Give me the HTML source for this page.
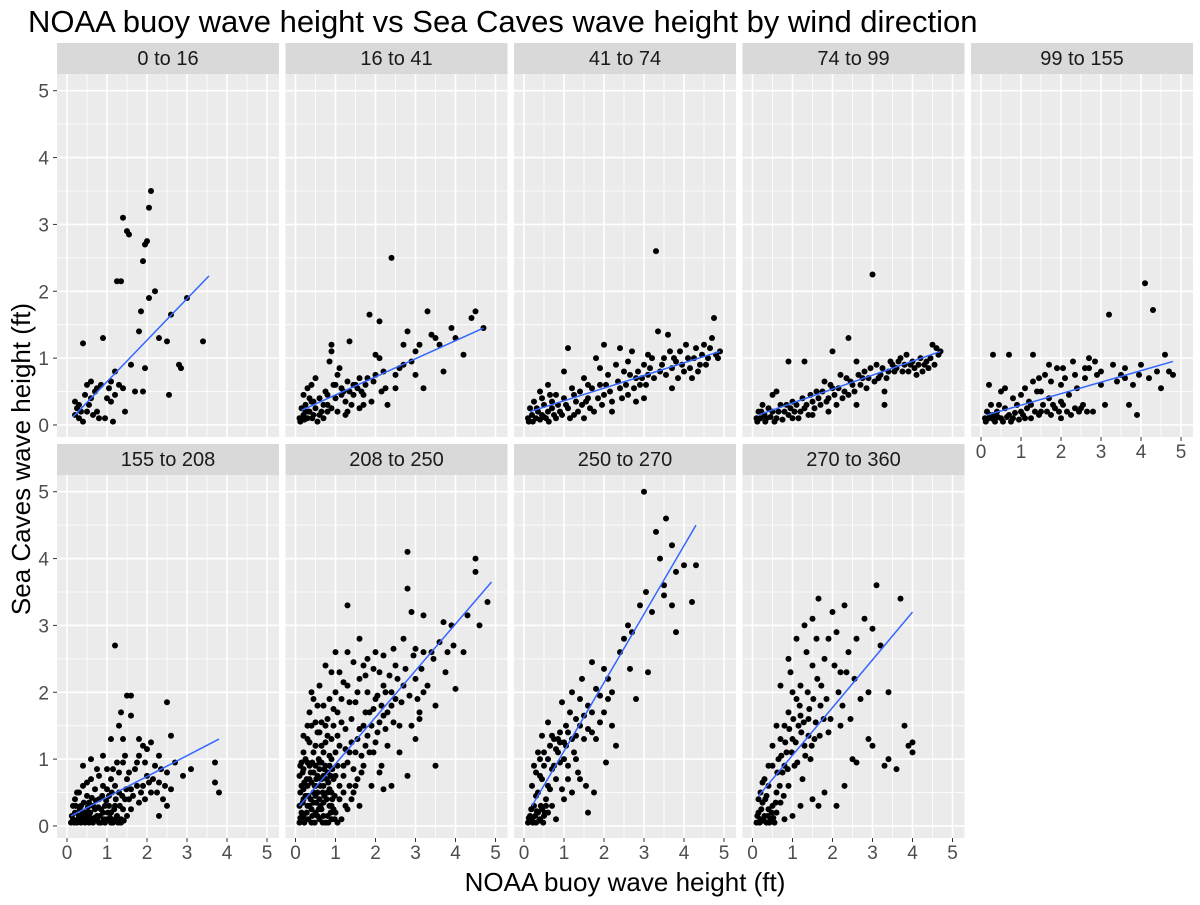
<!DOCTYPE html>
<html><head><meta charset="utf-8">
<style>
body{margin:0;background:#fff;font-family:"Liberation Sans",sans-serif;}
svg text{font-family:"Liberation Sans",sans-serif;}
</style></head>
<body>
<svg id="chart" width="1200" height="900" viewBox="0 0 1200 900" xmlns="http://www.w3.org/2000/svg">
<text x="28" y="32" font-size="31" fill="#000">NOAA buoy wave height vs Sea Caves wave height by wind direction</text>
<text x="625" y="891" font-size="26" text-anchor="middle" fill="#000">NOAA buoy wave height (ft)</text>
<text transform="translate(30,459) rotate(-90)" font-size="26" text-anchor="middle" fill="#000">Sea Caves wave height (ft)</text>
<g id="panels"></g>
</svg>
<script>
const facetLabels=["0 to 16","16 to 41","41 to 74","74 to 99","99 to 155","155 to 208","208 to 250","250 to 270","270 to 360"];
const xTicks=[0,1,2,3,4,5];
const yTicks=[0,1,2,3,4,5];
const fitStart=[[0.15,0.12],[0.15,0.22],[0.15,0.2],[0.15,0.15],[0.15,0.15],[0.1,0.15],[0.1,0.3],[0.2,0.3],[0.15,0.45]];
const fitEnd=[[3.55,2.23],[4.7,1.45],[4.9,1.1],[4.7,1.1],[4.8,0.95],[3.8,1.3],[4.9,3.65],[4.3,4.5],[4.0,3.2]];
const pts0=[[0.2,0.15],[0.3,0.3],[0.35,0.2],[0.4,1.22],[0.45,0.45],[0.5,0.6],[0.55,0.3],[0.6,0.65],[0.7,0.5],[0.75,0.55],[0.8,0.1],[0.85,0.6],[0.9,1.3],[0.95,0.1],[1.0,0.4],[1.05,0.55],[1.1,0.65],[1.15,0.05],[1.2,0.8],[1.25,2.15],[1.3,0.6],[1.35,2.15],[1.4,3.1],[1.45,0.2],[1.5,2.9],[1.55,2.85],[1.6,0.9],[1.7,0.5],[1.8,1.4],[1.85,1.7],[1.9,2.45],[1.95,2.7],[2.0,2.75],[1.9,0.5],[1.95,0.85],[2.05,1.9],[2.1,3.5],[2.05,3.25],[2.2,2.0],[2.3,1.3],[2.5,1.25],[2.6,1.65],[2.55,0.45],[2.8,0.9],[2.85,0.85],[3.0,1.9],[3.4,1.25],[0.6,0.4],[0.25,0.25],[0.4,0.05],[1.1,0.35],[0.75,0.2],[0.3,0.1],[0.5,0.2],[0.65,0.15],[1.2,0.45],[1.4,0.55],[0.2,0.35]];
const pts1=[[0.1,0.1],[0.15,0.25],[0.2,0.15],[0.25,0.3],[0.3,0.1],[0.35,0.2],[0.4,0.35],[0.45,0.15],[0.5,0.25],[0.2,0.45],[0.3,0.55],[0.5,0.7],[0.6,0.4],[0.6,0.15],[0.7,0.3],[0.75,0.5],[0.8,0.2],[0.85,0.95],[0.9,1.2],[0.9,1.1],[0.95,0.6],[1.0,0.4],[1.05,0.75],[1.1,0.85],[1.15,0.55],[1.2,0.5],[1.25,0.35],[1.3,0.65],[1.35,1.25],[1.4,0.3],[1.45,0.45],[1.5,0.6],[1.55,0.55],[1.6,0.7],[1.7,0.45],[1.75,0.6],[1.8,0.7],[1.85,1.65],[1.9,0.35],[2.0,0.75],[2.0,1.05],[2.1,1.0],[2.1,1.55],[2.2,0.8],[2.3,0.3],[2.4,2.5],[2.5,0.75],[2.6,0.85],[2.7,1.2],[2.8,1.4],[2.9,0.95],[3.0,1.1],[3.1,1.2],[3.2,0.55],[3.3,1.7],[3.4,1.35],[3.5,1.3],[3.6,1.2],[3.7,0.8],[3.9,1.45],[4.0,1.3],[4.2,1.05],[4.4,1.6],[4.5,1.7],[4.7,1.45],[1.3,0.2],[1.6,0.25],[0.8,0.3],[0.4,0.6],[0.12,0.05],[0.22,0.08],[0.32,0.2],[0.42,0.1],[0.55,0.05],[0.65,0.2],[0.7,0.1],[0.9,0.25],[1.05,0.2],[1.15,0.45],[1.35,0.5],[1.45,0.6],[1.65,0.5],[1.95,0.65],[2.15,0.5],[2.25,0.55],[0.25,0.2],[0.45,0.35],[0.8,0.45],[1.0,0.6],[1.25,0.15],[1.7,0.3],[2.5,0.55],[2.7,0.9],[3.0,0.75],[0.35,0.4]];
const pts2=[[0.1,0.1],[0.15,0.25],[0.2,0.15],[0.25,0.35],[0.3,0.1],[0.35,0.2],[0.4,0.5],[0.45,0.15],[0.5,0.3],[0.55,0.1],[0.6,0.2],[0.7,0.35],[0.75,0.15],[0.8,0.45],[0.85,0.3],[0.9,0.2],[1.0,0.4],[1.0,0.8],[1.1,0.25],[1.2,0.55],[1.25,0.15],[1.3,0.35],[1.4,0.5],[1.45,0.3],[1.5,0.7],[1.6,0.4],[1.7,0.55],[1.75,0.2],[1.8,1.0],[1.9,0.6],[2.0,0.45],[2.0,1.2],[2.1,0.75],[2.2,0.35],[2.3,0.9],[2.4,0.55],[2.5,0.8],[2.6,0.45],[2.7,1.1],[2.8,0.7],[2.9,0.6],[3.0,0.9],[3.1,0.75],[3.2,1.0],[3.3,2.6],[3.35,1.4],[3.4,0.8],[3.5,1.0],[3.6,1.35],[3.7,0.85],[3.8,0.95],[3.9,1.1],[4.0,0.8],[4.1,1.0],[4.2,0.7],[4.3,1.15],[4.4,0.9],[4.5,1.2],[4.6,1.0],[4.7,1.3],[4.75,1.6],[4.85,1.0],[4.9,1.1],[1.1,1.15],[2.4,1.15],[0.6,0.6],[1.5,0.1],[2.2,0.2],[3.0,0.4],[2.8,0.35],[3.7,0.55],[0.12,0.05],[0.22,0.05],[0.32,0.25],[0.4,0.08],[0.5,0.12],[0.62,0.05],[0.7,0.25],[0.8,0.1],[0.95,0.15],[1.05,0.3],[1.15,0.1],[1.35,0.2],[1.55,0.35],[1.65,0.25],[1.85,0.4],[1.95,0.3],[2.05,0.6],[2.15,0.5],[2.35,0.65],[2.45,0.4],[2.55,0.6],[2.65,0.75],[2.75,0.55],[2.85,0.8],[2.95,0.7],[3.05,0.6],[3.15,0.85],[3.25,0.7],[3.45,0.9],[3.55,0.75],[3.65,1.1],[3.75,1.0],[3.85,0.7],[3.95,0.9],[4.05,1.2],[4.15,0.85],[4.25,1.0],[4.35,0.8],[4.45,1.05],[4.55,0.9],[4.65,1.15],[4.8,1.05],[1.9,0.85],[2.6,0.95],[3.1,1.05],[0.45,0.4],[0.65,0.45],[1.25,0.45],[1.6,0.6]];
const pts3=[[0.1,0.1],[0.15,0.2],[0.2,0.1],[0.25,0.3],[0.3,0.15],[0.35,0.1],[0.4,0.25],[0.5,0.2],[0.6,0.1],[0.7,0.3],[0.8,0.2],[0.9,0.15],[1.0,0.1],[0.5,0.45],[0.6,0.5],[0.95,0.25],[1.1,0.3],[1.2,0.2],[1.3,0.25],[1.4,0.15],[1.5,0.35],[1.6,0.5],[1.7,0.3],[1.8,0.65],[1.9,0.4],[2.0,0.55],[2.1,0.3],[2.2,0.75],[2.3,0.5],[2.4,0.45],[2.5,0.6],[2.6,0.95],[2.7,0.6],[2.8,0.8],[2.9,0.7],[3.0,2.25],[3.05,0.65],[3.1,0.9],[3.2,0.75],[3.3,0.5],[3.4,0.8],[3.5,0.9],[3.6,0.85],[3.7,1.0],[3.8,0.9],[3.9,0.8],[4.0,0.95],[4.1,0.75],[4.2,1.0],[4.3,0.9],[4.4,0.85],[4.5,1.2],[4.6,1.15],[4.7,1.1],[2.0,1.1],[2.4,1.3],[1.3,0.95],[0.9,0.95],[1.9,0.2],[2.6,0.3],[3.3,0.3],[0.12,0.05],[0.22,0.2],[0.32,0.05],[0.45,0.12],[0.55,0.05],[0.65,0.2],[0.75,0.08],[0.85,0.3],[1.05,0.2],[1.15,0.1],[1.25,0.4],[1.35,0.3],[1.45,0.45],[1.55,0.25],[1.65,0.4],[1.75,0.5],[1.85,0.35],[1.95,0.6],[2.05,0.45],[2.15,0.55],[2.25,0.4],[2.35,0.7],[2.45,0.65],[2.55,0.5],[2.65,0.75],[2.75,0.7],[2.85,0.55],[2.95,0.85],[3.15,0.7],[3.25,0.85],[3.35,0.7],[3.45,0.95],[3.55,0.8],[3.65,0.95],[3.75,0.8],[3.85,1.05],[3.95,0.9],[4.05,0.85],[4.15,0.9],[4.25,0.8],[4.35,0.95],[4.45,1.0],[4.55,0.9],[4.65,1.05],[1.0,0.35],[1.5,0.15]];
const pts4=[[0.1,0.1],[0.15,0.2],[0.2,0.1],[0.25,0.3],[0.3,0.15],[0.35,0.05],[0.4,0.2],[0.5,0.1],[0.6,0.25],[0.7,0.15],[0.8,0.1],[0.9,0.3],[1.0,0.2],[1.1,0.1],[0.5,0.5],[0.6,0.55],[0.3,1.05],[0.7,1.05],[0.2,0.6],[1.0,0.45],[1.2,0.35],[1.3,0.65],[1.4,0.5],[1.5,0.2],[1.6,0.75],[1.7,0.4],[1.8,0.3],[1.9,0.85],[2.0,0.6],[2.1,0.7],[2.2,0.45],[2.3,0.95],[2.4,0.55],[2.5,0.25],[2.6,0.7],[2.7,0.85],[2.8,0.2],[2.9,0.75],[3.0,0.6],[3.1,0.3],[3.2,1.65],[3.3,0.9],[3.4,0.65],[3.5,0.75],[3.6,0.85],[3.7,0.3],[3.8,0.6],[3.9,0.15],[4.0,0.9],[4.1,2.12],[4.2,0.7],[4.3,1.72],[4.4,0.8],[4.5,0.55],[4.6,1.05],[4.7,0.8],[4.8,0.75],[2.7,1.0],[1.3,1.05],[1.7,0.9],[2.0,0.1],[1.5,0.5],[0.12,0.05],[0.22,0.15],[0.32,0.08],[0.42,0.12],[0.55,0.05],[0.65,0.12],[0.75,0.05],[0.85,0.18],[0.95,0.08],[1.05,0.15],[1.15,0.25],[1.25,0.1],[1.35,0.2],[1.45,0.15],[1.55,0.3],[1.65,0.2],[1.75,0.15],[1.85,0.25],[1.95,0.2],[2.05,0.3],[2.15,0.2],[2.25,0.15],[2.35,0.25],[2.45,0.2],[2.55,0.3],[2.65,0.2],[0.45,0.3],[0.8,0.4],[1.1,0.55],[1.45,0.7],[1.75,0.65],[2.05,0.85],[2.35,0.75],[2.6,0.85],[2.85,0.95],[3.0,0.8],[3.6,0.7],[3.95,0.75],[1.25,0.3],[2.0,0.35]];
const pts5=[[0.1,0.05],[0.15,0.1],[0.2,0.2],[0.25,0.05],[0.3,0.15],[0.35,0.3],[0.4,0.1],[0.45,0.05],[0.5,0.2],[0.55,0.35],[0.6,0.1],[0.65,0.05],[0.7,0.25],[0.75,0.15],[0.8,0.4],[0.85,0.05],[0.9,0.2],[0.95,0.3],[1.0,0.1],[1.05,0.45],[1.1,0.2],[1.15,0.05],[1.2,0.3],[1.25,0.15],[1.3,0.5],[1.35,0.1],[1.4,0.25],[1.45,0.4],[1.5,0.15],[0.2,0.4],[0.3,0.5],[0.4,0.6],[0.5,0.45],[0.6,0.7],[0.7,0.55],[0.8,0.75],[0.9,0.6],[1.0,0.85],[1.1,0.7],[1.2,0.6],[1.3,0.8],[1.4,0.95],[1.5,0.7],[1.6,0.55],[1.7,0.85],[1.8,1.05],[1.9,0.6],[2.0,0.75],[2.1,0.5],[2.2,0.9],[2.3,0.65],[2.4,0.4],[2.5,0.8],[2.6,0.55],[2.7,0.95],[0.4,0.9],[0.6,1.0],[0.9,1.05],[1.1,1.3],[1.2,2.7],[1.3,1.5],[1.35,1.7],[1.5,1.95],[1.6,1.95],[1.6,1.65],[1.4,1.3],[1.8,1.3],[1.9,1.2],[2.0,1.15],[2.3,1.05],[2.5,1.85],[2.6,1.35],[2.9,0.75],[3.1,0.85],[3.7,0.95],[3.7,0.65],[3.8,0.5],[2.5,0.3],[2.3,0.15],[1.8,0.35],[1.6,0.25],[0.35,0.05],[0.55,0.05],[0.75,0.1],[0.95,0.05],[1.2,0.1],[0.45,0.2],[0.65,0.3],[0.85,0.25],[1.05,0.3],[0.12,0.15],[0.18,0.05],[0.22,0.3],[0.28,0.1],[0.32,0.25],[0.38,0.18],[0.42,0.35],[0.48,0.12],[0.52,0.28],[0.58,0.2],[0.62,0.42],[0.68,0.12],[0.72,0.38],[0.78,0.28],[0.82,0.15],[0.88,0.45],[0.92,0.1],[0.98,0.38],[1.02,0.2],[1.08,0.12],[1.12,0.5],[1.18,0.25],[1.22,0.4],[1.28,0.05],[1.32,0.3],[1.38,0.45],[1.42,0.08],[1.48,0.55],[1.55,0.4],[1.65,0.45],[1.75,0.6],[1.85,0.5],[1.95,0.4],[2.05,0.65],[2.15,0.7],[2.25,0.5],[2.35,0.85],[2.45,0.6],[1.55,0.8],[1.75,0.95],[1.25,0.95],[0.75,0.85],[0.5,0.65],[0.25,0.5],[1.0,0.55],[1.15,0.85],[1.45,1.05],[1.95,0.95],[2.1,1.25],[0.15,0.3],[0.35,0.12],[0.55,0.15],[0.8,0.05],[1.1,0.05],[1.35,0.05]];
const pts6=[[0.1,0.05],[0.15,0.2],[0.2,0.4],[0.25,0.1],[0.3,0.6],[0.35,0.3],[0.4,0.05],[0.45,0.8],[0.5,0.2],[0.55,0.5],[0.6,0.1],[0.65,0.7],[0.7,0.35],[0.75,0.9],[0.8,0.15],[0.85,0.55],[0.9,1.0],[0.95,0.25],[1.0,0.75],[0.1,0.3],[0.15,0.6],[0.2,0.85],[0.25,0.45],[0.3,0.95],[0.35,0.7],[0.4,0.25],[0.45,0.5],[0.5,0.9],[0.55,0.15],[0.6,0.4],[0.65,0.95],[0.7,0.6],[0.75,0.05],[0.8,0.8],[0.85,0.3],[0.9,0.5],[0.95,0.7],[1.0,0.2],[0.1,0.75],[0.2,0.15],[0.3,0.3],[0.4,0.65],[0.5,0.45],[0.6,0.85],[0.7,0.15],[0.8,0.5],[0.9,0.3],[0.15,0.95],[0.35,0.9],[0.55,0.75],[0.2,1.1],[0.3,1.3],[0.4,1.5],[0.5,1.2],[0.6,1.4],[0.7,1.1],[0.8,1.6],[0.9,1.3],[1.0,1.1],[0.35,1.7],[0.55,1.8],[0.65,1.55],[0.75,1.25],[0.85,1.9],[0.95,1.5],[1.05,1.7],[1.1,1.2],[1.15,1.9],[1.2,0.9],[1.25,1.45],[1.3,2.1],[1.35,1.1],[1.4,1.6],[1.45,0.5],[1.5,1.85],[1.55,1.3],[1.6,2.2],[1.65,0.8],[1.7,1.5],[1.75,1.2],[1.8,2.0],[1.85,1.7],[1.9,0.6],[1.95,1.1],[2.0,1.9],[2.05,1.4],[2.1,2.3],[2.15,0.9],[2.2,1.65],[2.25,2.0],[2.3,1.2],[2.4,1.8],[2.5,2.4],[2.6,1.5],[2.7,2.1],[2.8,0.75],[2.9,1.5],[3.0,2.2],[3.1,1.6],[3.2,2.6],[1.1,2.3],[1.3,2.6],[1.6,2.8],[1.8,2.5],[2.0,2.6],[0.9,2.3],[0.6,2.1],[0.3,1.5],[0.45,1.9],[0.75,2.4],[1.0,2.6],[1.3,3.3],[1.4,0.4],[1.5,0.6],[1.6,0.3],[2.2,0.55],[2.1,0.8],[1.3,0.25],[1.2,0.5],[1.15,0.1],[1.1,0.4],[2.4,0.6],[2.7,2.8],[2.9,3.2],[2.8,3.55],[2.8,4.1],[3.0,2.65],[3.2,3.15],[3.4,2.6],[3.5,1.8],[3.5,0.9],[3.7,3.05],[3.9,3.0],[3.8,2.6],[4.0,2.05],[4.3,3.15],[4.5,4.0],[4.6,3.0],[4.2,2.6],[4.5,3.8],[4.8,3.35],[3.2,2.0],[3.1,1.7],[3.0,1.3],[2.6,1.1],[0.5,0.6],[0.7,0.75],[0.2,0.55],[0.45,0.35],[0.65,0.25],[0.9,0.1],[1.05,0.05],
[0.12,0.12],[0.18,0.35],[0.22,0.65],[0.28,0.2],[0.32,0.45],[0.38,0.8],[0.42,0.15],[0.48,0.6],[0.52,0.35],[0.58,1.0],[0.62,0.3],[0.68,0.5],[0.72,0.85],[0.78,0.4],[0.82,0.65],[0.88,0.2],[0.92,0.85],[0.98,0.45],[0.12,0.5],[0.18,0.8],[0.22,0.05],[0.28,0.7],[0.32,0.1],[0.38,0.4],[0.42,0.95],[0.48,0.05],[0.52,0.7],[0.58,0.25],[0.62,0.6],[0.68,0.05],[0.72,0.45],[0.78,0.7],[0.82,0.05],[0.88,0.75],[0.92,0.4],[0.98,0.1],[0.12,0.9],[0.25,1.0],[0.45,1.1],[0.65,1.2],[0.85,1.05],[1.05,0.9],[1.1,0.6],[1.2,0.75],[1.25,0.3],[1.3,0.95],[1.35,0.6],[1.4,1.25],[1.45,0.85],[1.5,1.1],[1.55,0.7],[1.6,1.45],[1.65,1.05],[1.7,0.9],[1.75,1.7],[1.8,1.35],[1.85,1.1],[1.9,1.5],[1.95,1.75],[2.0,1.25],[2.05,1.95],[2.1,1.55],[2.15,1.8],[2.2,2.1],[2.25,1.45],[2.3,1.7],[2.35,2.25],[2.4,2.0],[2.45,1.55],[2.5,1.9],[2.55,2.2],[2.65,1.85],[2.75,2.35],[2.85,1.95],[2.95,2.55],[3.05,1.9],[3.15,2.35],[3.3,2.1],[3.45,2.5],[3.6,2.75],[3.75,2.3],[3.95,2.7],[0.35,1.25],[0.55,1.4],[0.75,1.5],[0.95,1.75],[1.15,1.55],[1.35,1.85],[1.55,2.0],[1.75,2.25],[1.95,2.35],[0.4,2.0],[0.7,1.8],[1.0,2.0],[1.2,2.15],[1.45,2.45],[1.7,2.4],[2.2,2.55],[2.45,2.65],[0.2,1.35],[0.5,1.55],[0.8,1.35],[1.05,1.35],[1.25,1.15],[0.6,0.95],[0.85,0.9]];
const pts7=[[0.1,0.05],[0.15,0.15],[0.2,0.1],[0.25,0.3],[0.3,0.05],[0.35,0.2],[0.4,0.1],[0.45,0.25],[0.5,0.15],[0.55,0.3],[0.2,0.6],[0.3,0.8],[0.35,0.5],[0.4,1.0],[0.45,0.7],[0.5,0.9],[0.55,0.4],[0.6,0.6],[0.65,1.2],[0.7,0.85],[0.75,1.3],[0.8,0.7],[0.85,1.1],[0.9,1.4],[0.95,0.55],[1.0,1.25],[1.05,1.5],[1.1,0.9],[1.15,1.7],[1.2,2.0],[1.25,1.1],[1.3,1.6],[1.35,0.8],[1.4,1.9],[1.45,2.2],[1.5,1.3],[1.55,0.6],[1.6,1.8],[1.7,2.45],[1.75,0.5],[1.8,2.05],[1.9,1.55],[2.0,2.35],[2.05,0.95],[2.1,1.9],[2.2,1.5],[2.3,1.2],[2.4,2.6],[2.5,2.8],[2.6,3.0],[2.65,2.35],[2.7,2.9],[2.8,1.9],[2.9,3.3],[3.0,5.0],[3.05,3.5],[3.1,2.3],[3.2,3.2],[3.3,4.4],[3.4,4.0],[3.5,3.6],[3.55,4.6],[3.7,4.2],[3.8,3.8],[4.0,3.9],[4.2,3.35],[4.3,3.9],[3.7,3.3],[3.8,2.9],[3.5,3.45],[0.9,1.25],[1.0,0.4],[1.2,0.5],[1.4,0.7],[1.6,0.2],[0.7,0.3],[0.8,0.1],[0.6,0.2],[1.1,0.7],[1.3,1.0],[1.7,1.4],[0.95,1.85],[0.3,0.45],[0.6,1.55],[0.12,0.12],[0.18,0.25],[0.22,0.05],[0.28,0.15],[0.32,0.22],[0.38,0.08],[0.42,0.3],[0.48,0.05],[0.52,0.2],[0.25,0.9],[0.4,0.75],[0.5,1.1],[0.6,1.0],[0.7,1.35],[0.8,1.15],[0.85,1.3],[0.9,0.95],[1.0,1.0],[1.05,1.2],[1.1,1.4],[1.2,1.3],[1.3,1.35],[1.4,1.5],[1.5,1.65],[1.6,1.45],[1.7,1.7],[1.8,1.3],[1.9,1.95],[2.0,1.7],[2.1,2.2],[2.2,2.0],[0.65,0.55],[0.75,0.9],[0.35,1.1],[0.45,1.35]];
const pts8=[[0.1,0.05],[0.15,0.2],[0.2,0.1],[0.25,0.35],[0.3,0.15],[0.35,0.05],[0.4,0.25],[0.45,0.1],[0.5,0.3],[0.55,0.05],[0.2,0.5],[0.3,0.7],[0.4,0.6],[0.5,0.9],[0.6,0.5],[0.15,0.4],[0.35,0.45],[0.6,0.2],[0.7,0.35],[0.8,0.1],[0.9,0.6],[0.65,1.0],[0.7,1.3],[0.75,0.8],[0.8,1.5],[0.85,1.1],[0.9,1.7],[0.95,2.3],[1.0,1.3],[1.05,0.9],[1.1,1.9],[1.15,1.5],[1.2,2.1],[1.25,0.7],[1.3,1.2],[1.35,2.6],[1.4,1.6],[1.45,1.0],[1.5,2.4],[1.55,1.3],[1.6,2.8],[1.65,0.3],[1.7,1.8],[1.8,2.5],[1.9,1.4],[2.0,3.2],[2.1,2.9],[2.2,1.5],[2.3,3.3],[2.4,2.6],[2.5,1.0],[2.6,2.8],[2.7,1.9],[2.8,3.1],[2.9,2.0],[3.0,2.95],[3.0,1.2],[3.1,3.6],[3.2,2.7],[3.3,0.9],[3.4,2.0],[3.7,3.4],[3.8,1.5],[3.6,0.85],[3.9,1.2],[4.0,1.1],[4.0,1.25],[3.4,1.0],[2.9,1.3],[2.6,0.95],[2.3,0.6],[2.1,0.3],[1.8,0.5],[1.5,0.4],[1.2,0.3],[1.0,0.15],[0.8,0.9],[0.6,1.5],[0.7,2.1],[0.9,2.5],[1.1,2.8],[1.3,3.0],[1.5,3.1],[1.65,3.4],[1.9,2.8],[2.2,2.3],[0.5,1.2],[0.4,0.9],[0.25,0.65],[1.0,2.0],[1.2,1.65],[1.4,1.35],[0.12,0.15],[0.18,0.05],[0.22,0.25],[0.28,0.08],[0.32,0.4],[0.38,0.15],[0.42,0.05],[0.48,0.2],[0.52,0.12],[0.58,0.35],[0.62,0.8],[0.68,0.6],[0.72,1.05],[0.78,0.45],[0.82,1.25],[0.88,0.85],[0.92,1.45],[0.98,1.1],[1.02,1.6],[1.08,1.25],[1.12,0.95],[1.18,1.8],[1.22,1.4],[1.28,1.55],[1.32,1.05],[1.38,2.0],[1.42,1.75],[1.48,1.2],[1.52,1.9],[1.58,1.55],[1.62,2.2],[1.68,1.35],[1.72,2.1],[1.78,1.6],[1.85,1.9],[1.95,1.6],[2.05,2.4],[2.15,2.0],[2.25,1.8],[2.35,2.3],[2.45,1.6],[2.55,2.2]];
const panelPoints=[pts0,pts1,pts2,pts3,pts4,pts5,pts6,pts7,pts8];

const NS="http://www.w3.org/2000/svg";
const root=document.getElementById('panels');
const PW=222, PH=363, X0=57, STEP=228.5;
const XMIN=-0.25, XMAX=5.3, YMIN=-0.18, YMAX=5.25;
function mk(tag,attrs,parent){const e=document.createElementNS(NS,tag);for(const k in attrs)e.setAttribute(k,attrs[k]);parent.appendChild(e);return e;}
function panelBox(i){const r=i<5?0:1,c=i<5?i:i-5;return {x:X0+c*STEP,y:r===0?74:475,r,c};}
facetLabels.forEach((lab,i)=>{
  const b=panelBox(i);
  const sx=v=>b.x+(v-XMIN)/(XMAX-XMIN)*PW;
  const sy=v=>b.y+PH-(v-YMIN)/(YMAX-YMIN)*PH;
  const g=mk('g',{},root);
  
  
  const strip=mk('rect',{x:b.x,y:b.y-31,width:PW,height:31,fill:'#d9d9d9'},g);
  
  
  const st=mk('text',{x:b.x+PW/2,y:b.y-9,'font-size':20,'text-anchor':'middle',fill:'#1a1a1a'},g);
  st.textContent=lab;
  
  
  const bg=mk('rect',{x:b.x,y:b.y,width:PW,height:PH,fill:'#ebebeb'},g);
  
  
  for(let v=0;v<=5;v+=0.5){
    const w=Number.isInteger(v)?1.6:0.8;
    mk('line',{x1:sx(v),x2:sx(v),y1:b.y,y2:b.y+PH,stroke:'#fff','stroke-width':w},g);
    mk('line',{x1:b.x,x2:b.x+PW,y1:sy(v),y2:sy(v),stroke:'#fff','stroke-width':w},g);
  }
  panelPoints[i].forEach(p=>{
    const c=mk('circle',{cx:sx(p[0]),cy:sy(p[1]),r:3,fill:'#000'},g);
    
    
  });
  const fl=mk('line',{x1:sx(fitStart[i][0]),y1:sy(fitStart[i][1]),x2:sx(fitEnd[i][0]),y2:sy(fitEnd[i][1]),stroke:'#3366ff','stroke-width':1.5},g);
  
  
  const showX=(b.r===1)||(i===4);
  if(showX){xTicks.forEach(t=>{
    mk('line',{x1:sx(t),x2:sx(t),y1:b.y+PH,y2:b.y+PH+4,stroke:'#333','stroke-width':1},g);
    const tx=mk('text',{x:sx(t),y:b.y+PH+21,'font-size':19,'text-anchor':'middle',fill:'#4d4d4d'},g);
    tx.textContent=t;
    
    
  });}
  if(b.c===0){yTicks.forEach(t=>{
    mk('line',{x1:b.x-4,x2:b.x,y1:sy(t),y2:sy(t),stroke:'#333','stroke-width':1},g);
    const ty=mk('text',{x:b.x-8,y:sy(t)+7,'font-size':19,'text-anchor':'end',fill:'#4d4d4d'},g);
    ty.textContent=t;
    
    
  });}
});
</script>
</body></html>
